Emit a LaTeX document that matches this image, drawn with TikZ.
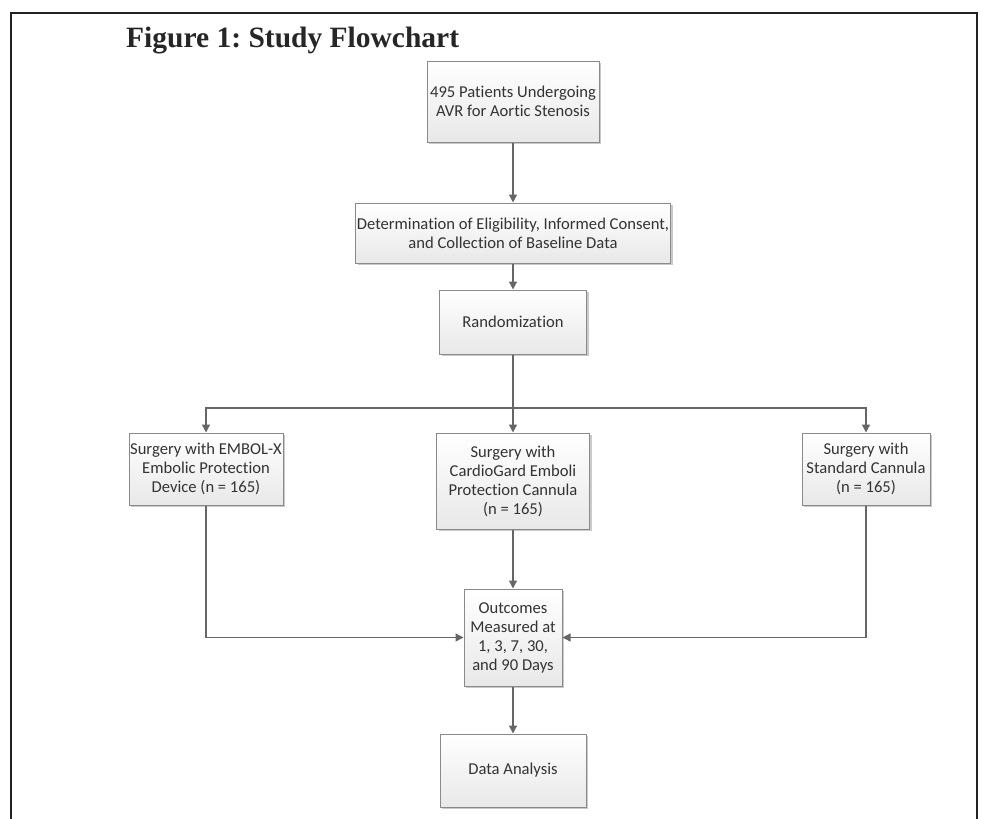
\documentclass[tikz,border=0pt]{standalone}
\usepackage{fontspec}
\setmainfont{Carlito}[Ligatures=NoCommon]
\newfontfamily\titlefont{Liberation Serif}
\usetikzlibrary{arrows.meta,shadows,calc}
\definecolor{boxline}{HTML}{8A8A8A}
\definecolor{arrowcol}{HTML}{666666}
\definecolor{txtcol}{HTML}{333333}
\definecolor{framecol}{HTML}{222222}
\frenchspacing
\begin{document}
\begin{tikzpicture}[x=1pt,y=-1pt,
  box/.style={draw=boxline, line width=1pt, top color=white, bottom color=black!9,
    drop shadow={shadow xshift=2pt, shadow yshift=-2pt, fill=black!35, opacity=0.6},
    align=center, inner sep=0pt, text=txtcol,
    font=\fontsize{16.6}{19}\selectfont},
  conn/.style={draw=arrowcol, line width=1.3pt},
  arr/.style={conn, -{Triangle[length=8pt,width=8pt]}}
]
\useasboundingbox (0,0) rectangle (983,819);
% frame
\draw[framecol, line width=2pt] (11,819) -- (11,13) -- (977,13) -- (977,819);
% title
\node[anchor=base west, inner sep=0pt, font=\titlefont\bfseries\fontsize{29.5}{34}\selectfont, text=black!85] (title) at (126,47) {Figure 1: Study Flowchart};
% boxes
\node[box, minimum width=172pt, minimum height=81pt] (b1) at (513,101.5) {495 Patients Undergoing\\AVR for Aortic Stenosis};
\node[box, minimum width=315pt, minimum height=60pt] (b2) at (513,233) {Determination of Eligibility, Informed Consent,\\and Collection of Baseline Data};
\node[box, minimum width=147pt, minimum height=64pt] (b3) at (513,322) {Randomization};
\node[box, minimum width=154pt, minimum height=72pt] (b4) at (206,469) {Surgery with EMBOL-X\\Embolic Protection\\Device (n = 165)};
\node[box, minimum width=153pt, minimum height=96pt] (b5) at (513,481) {Surgery with\\CardioGard Emboli\\Protection Cannula\\(n = 165)};
\node[box, minimum width=128pt, minimum height=72pt] (b6) at (866,469) {Surgery with\\Standard Cannula\\(n = 165)};
\node[box, minimum width=98pt, minimum height=97pt] (b7) at (513,637.5) {Outcomes\\Measured at\\1, 3, 7, 30,\\and 90 Days};
\node[box, minimum width=146pt, minimum height=73pt] (b8) at (513,770.5) {Data Analysis};
% connectors
\coordinate (split) at (513,408);
\draw[arr] (b1.south) -- (b2.north);
\draw[arr] (b2.south) -- (b3.north);
\draw[conn] (b3.south) -- (split);
\draw[arr] (split) -| (b4.north);
\draw[arr] (split) -| (b6.north);
\draw[arr] (split) -- (b5.north);
\draw[arr] (b4.south) |- (b7.west);
\draw[arr] (b6.south) |- (b7.east);
\draw[arr] (b5.south) -- (b7.north);
\draw[arr] (b7.south) -- (b8.north);
\end{tikzpicture}
\end{document}
